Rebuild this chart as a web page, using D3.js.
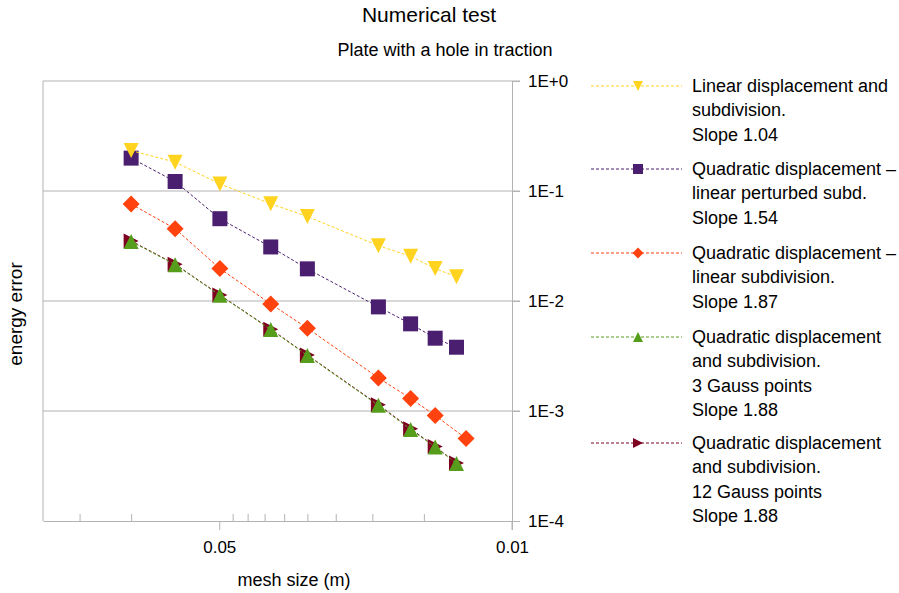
<!DOCTYPE html>
<html>
<head>
<meta charset="utf-8">
<script src="https://cdn.jsdelivr.net/npm/d3@7"></script>
<style>
  body { margin: 0; background: #fff; }
  svg { display: block; font-family: "Liberation Sans", Arial, sans-serif; }
</style>
</head>
<body>
<div id="chart"></div>
<script>
// mesh size values in axis units (reversed log axis)
const meshSize = [0.2, 0.1415, 0.0995, 0.0667, 0.05, 0.0286, 0.0222, 0.0183, 0.01547];
const meshSizeLast = [0.2, 0.1415, 0.0995, 0.0667, 0.05, 0.0286, 0.0222, 0.0183, 0.01435];

const linearSub = [0.233, 0.183, 0.116, 0.0766, 0.0587, 0.0318, 0.0255, 0.0197, 0.0166];
const quadPerturbed = [0.199, 0.122, 0.056, 0.031, 0.0196, 0.00884, 0.0062, 0.00459, 0.0038];
const quadLinearSub = [0.076, 0.0454, 0.0197, 0.0094, 0.00566, 0.0020, 0.0013, 0.000912, 0.000561];
const quad3Gauss = [0.0348, 0.0214, 0.01127, 0.0055, 0.0032, 0.001125, 0.00068, 0.00047, 0.000333];
const quad12Gauss = [0.0352, 0.0216, 0.01135, 0.00555, 0.00323, 0.00114, 0.00069, 0.000475, 0.000337];

const legendLabels = [
  ["Linear displacement and", "subdivision.", "Slope 1.04"],
  ["Quadratic displacement \u2013", "linear perturbed subd.", "Slope 1.54"],
  ["Quadratic displacement \u2013", "linear subdivision.", "Slope 1.87"],
  ["Quadratic displacement", "and subdivision.", "3 Gauss points", "Slope 1.88"],
  ["Quadratic displacement", "and subdivision.", "12 Gauss points", "Slope 1.88"]
];

const yTicks = [1, 1e-1, 1e-2, 1e-3, 1e-4];
const yTickLabels = ["1E+0", "1E-1", "1E-2", "1E-3", "1E-4"];
const xMajorTicks = [0.1, 0.01];
const xMajorLabels = ["0.05", "0.01"];

const W = 899, H = 593;
const plot = { left: 43, right: 512, top: 81, bottom: 521 };

const svg = d3.select("#chart").append("svg").attr("width", W).attr("height", H);

const x = d3.scaleLog().domain([0.4, 0.01]).range([plot.left, plot.right]);
const y = d3.scaleLog().domain([1, 1e-4]).range([plot.top, plot.bottom]);

const series = [
  { name: "lin", xs: meshSize, ys: linearSub, color: "#ffd320", shape: "down" },
  { name: "quadPert", xs: meshSize, ys: quadPerturbed, color: "#4b1f6f", shape: "square" },
  { name: "quadLin", xs: meshSizeLast, ys: quadLinearSub, color: "#ff420e", shape: "diamond" },
  { name: "quad3", xs: meshSize, ys: quad3Gauss, color: "#579d1c", shape: "up" },
  { name: "quad12", xs: meshSize, ys: quad12Gauss, color: "#7e0021", shape: "right" }
];

function markerPath(shape, s) {
  const h = s / 2;
  if (shape === "down") return `M${-h},${-h}L${h},${-h}L0,${h}Z`;
  if (shape === "up") return `M${-h},${h}L${h},${h}L0,${-h}Z`;
  if (shape === "right") return `M${-h},${-h}L${h},0L${-h},${h}Z`;
  if (shape === "diamond") return `M0,${-h}L${h},0L0,${h}L${-h},0Z`;
  return `M${-h},${-h}L${h},${-h}L${h},${h}L${-h},${h}Z`;
}

// gridlines
svg.append("g")
  .selectAll("line")
  .data(yTicks.slice(0, 4))
  .join("line")
  .attr("x1", plot.left).attr("x2", plot.right + 8)
  .attr("y1", d => y(d)).attr("y2", d => y(d))
  .attr("stroke", "#b3b3b3").attr("stroke-width", 1.2);

// left frame
svg.append("line")
  .attr("x1", plot.left).attr("x2", plot.left)
  .attr("y1", plot.top).attr("y2", plot.bottom)
  .attr("stroke", "#b3b3b3");

// x axis: minor ticks inside
const minorTicks = x.ticks().filter(t => !xMajorTicks.some(m => Math.abs(m - t) < 1e-9) && t < 0.4);
svg.append("g")
  .attr("transform", `translate(0,${plot.bottom})`)
  .call(d3.axisTop(x).tickValues(minorTicks).tickSize(7).tickFormat(""))
  .call(g => g.select(".domain").remove())
  .call(g => g.selectAll("line").attr("stroke", "#b3b3b3"));

const xAxis = svg.append("g")
  .attr("transform", `translate(0,${plot.bottom})`)
  .call(d3.axisBottom(x).tickValues(xMajorTicks).tickSizeInner(9).tickSizeOuter(0)
    .tickFormat((d, i) => xMajorLabels[i]).tickPadding(11));
xAxis.select(".domain").attr("stroke", "#b3b3b3");
xAxis.selectAll("line").attr("stroke", "#b3b3b3");
xAxis.selectAll("text").attr("font-size", 17).attr("fill", "#000")
  .attr("font-family", "Liberation Sans, Arial, sans-serif");

// y axis on the right
const yAxis = svg.append("g")
  .attr("transform", `translate(${plot.right},0)`)
  .call(d3.axisRight(y).tickValues(yTicks).tickSizeInner(8).tickSizeOuter(0)
    .tickFormat((d, i) => yTickLabels[i]).tickPadding(8));
yAxis.select(".domain").attr("stroke", "#b3b3b3");
yAxis.selectAll("line").attr("stroke", "#b3b3b3");
yAxis.selectAll("text").attr("font-size", 17).attr("fill", "#000")
  .attr("font-family", "Liberation Sans, Arial, sans-serif");
svg.append("line")
  .attr("x1", plot.right).attr("x2", plot.right)
  .attr("y1", plot.bottom).attr("y2", plot.bottom + 9)
  .attr("stroke", "#b3b3b3");

// series, drawn last-to-first so the first sits on top
const line = d3.line().x(d => x(d[0])).y(d => y(d[1]));
series.slice().reverse().forEach(s => {
  const pts = s.xs.map((v, i) => [v, s.ys[i]]);
  svg.append("path")
    .datum(pts)
    .attr("d", line)
    .attr("fill", "none")
    .attr("stroke", s.color)
    .attr("stroke-width", 1)
    .attr("stroke-dasharray", "3,2");
  svg.append("g")
    .selectAll("path")
    .data(pts)
    .join("path")
    .attr("transform", d => `translate(${x(d[0])},${y(d[1])})`)
    .attr("d", markerPath(s.shape, s.shape === "diamond" ? 17 : 15))
    .attr("fill", s.color);
});

// titles
svg.append("text").attr("x", 429).attr("y", 22).attr("text-anchor", "middle")
  .attr("font-size", 21).text("Numerical test");
svg.append("text").attr("x", 445).attr("y", 56).attr("text-anchor", "middle")
  .attr("font-size", 18).text("Plate with a hole in traction");
svg.append("text").attr("x", 294).attr("y", 586).attr("text-anchor", "middle")
  .attr("font-size", 18).text("mesh size (m)");
svg.append("text").attr("transform", "translate(22,314) rotate(-90)")
  .attr("text-anchor", "middle").attr("font-size", 19).text("energy error");

// legend
const legendY = [86, 169, 253, 337, 443];
const lineH = 24.4;
const legend = svg.append("g");
series.forEach((s, i) => {
  const g = legend.append("g").attr("transform", `translate(0,${legendY[i]})`);
  g.append("line").attr("x1", 591).attr("x2", 682).attr("y1", 0).attr("y2", 0)
    .attr("stroke", s.color).attr("stroke-dasharray", "3,2");
  g.append("path").attr("transform", "translate(638,0)")
    .attr("d", markerPath(s.shape, s.shape === "diamond" ? 11 : 10)).attr("fill", s.color);
  g.selectAll("text")
    .data(legendLabels[i])
    .join("text")
    .attr("x", 692)
    .attr("y", (d, j) => j * lineH + 6)
    .attr("font-size", 18)
    .text(d => d);
});
</script>
</body>
</html>
